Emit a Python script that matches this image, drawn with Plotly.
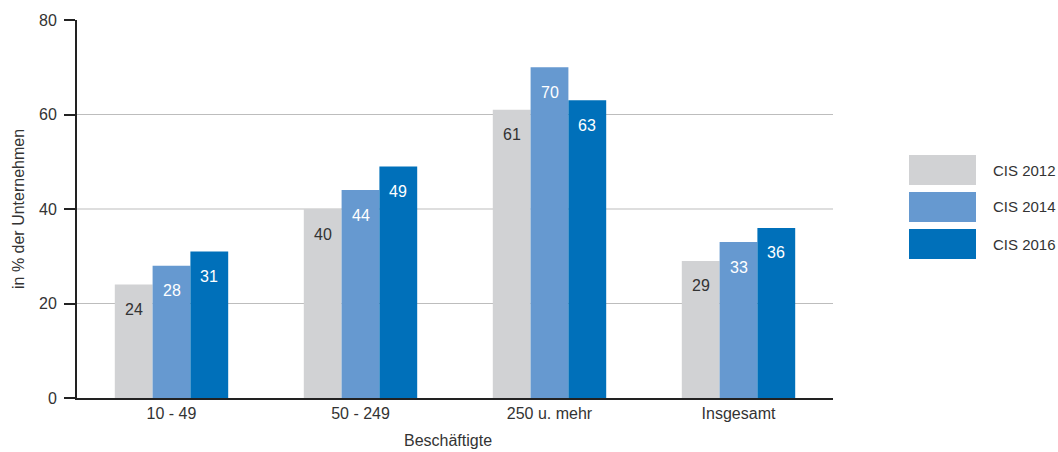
import plotly.graph_objects as go

categories = ["10 - 49", "50 - 249", "250 u. mehr", "Insgesamt"]
series_names = ["CIS 2012", "CIS 2014", "CIS 2016"]
cis_2012 = [24, 40, 61, 29]
cis_2014 = [28, 44, 70, 33]
cis_2016 = [31, 49, 63, 36]
y_ticks = [0, 20, 40, 60, 80]

colors = ["#d1d2d4", "#6699d0", "#0070ba"]
label_colors = ["#333333", "#ffffff", "#ffffff"]
FONT = "Liberation Sans, Arial, sans-serif"
TEXT = "#333333"
FS = 16

# plot area in pixels
W, H = 1058, 452
L, R, T, B = 77, 225, 20, 54
PW, PH = W - L - R, H - T - B

fig = go.Figure()
values = [cis_2012, cis_2014, cis_2016]
for name, vals, col in zip(series_names, values, colors):
    fig.add_trace(go.Bar(x=categories, y=vals, name=name, marker_color=col,
                         marker_line_width=0, showlegend=False))

# value labels just below the top of each bar
n = len(series_names)
bargap = 0.4
bw = (1 - bargap) / n
annotations = []
for s, vals in enumerate(values):
    for i, v in enumerate(vals):
        annotations.append(dict(x=i + (s - (n - 1) / 2) * bw, y=v, xref="x", yref="y",
                                text=str(v), showarrow=False, yshift=-25,
                                font=dict(family=FONT, size=FS, color=label_colors[s])))

# horizontal grid at the inner ticks
shapes = []
for t in y_ticks[1:-1]:
    shapes.append(dict(type="line", xref="paper", yref="y", x0=0, x1=1, y0=t, y1=t,
                       line=dict(color="#bdbdbd", width=1), layer="below"))

# legend drawn as wide swatches
def px_x(px):
    return (px - L) / PW

def px_y(py):
    return (H - B - py) / PH

legend_tops = [155, 192, 229]
for name, col, top in zip(series_names, colors, legend_tops):
    shapes.append(dict(type="rect", xref="paper", yref="paper",
                       x0=px_x(909), x1=px_x(976), y0=px_y(top + 30), y1=px_y(top),
                       fillcolor=col, line_width=0))
    annotations.append(dict(x=px_x(991), y=px_y(top + 15), xref="paper", yref="paper",
                            text=name, showarrow=False, xanchor="left", yanchor="middle",
                            font=dict(family=FONT, size=15, color=TEXT)))

# axis titles
annotations.append(dict(x=px_x(18), y=0.5, xref="paper", yref="paper",
                        text="in % der Unternehmen", textangle=-90, showarrow=False,
                        xanchor="center", yanchor="middle",
                        font=dict(family=FONT, size=FS, color=TEXT)))
annotations.append(dict(x=px_x(448), y=px_y(440), xref="paper", yref="paper",
                        text="Beschäftigte", showarrow=False,
                        xanchor="center", yanchor="middle",
                        font=dict(family=FONT, size=FS, color=TEXT)))

fig.update_layout(
    width=W, height=H,
    margin=dict(l=L, r=R, t=T, b=B, pad=0),
    barmode="group", bargap=bargap, bargroupgap=0,
    plot_bgcolor="white", paper_bgcolor="white",
    font=dict(family=FONT, size=FS, color=TEXT),
    shapes=shapes, annotations=annotations,
    xaxis=dict(showgrid=False, showline=True, linecolor="#222222", linewidth=2,
               ticks="", tickfont=dict(size=FS, color=TEXT)),
    yaxis=dict(range=[0, 80], tickvals=y_ticks, showgrid=False, zeroline=False,
               showline=True, linecolor="#222222", linewidth=2,
               ticks="outside", ticklen=11, tickwidth=1.5, tickcolor="#222222",
               tickfont=dict(size=FS, color=TEXT), ticklabelstandoff=4),
)

fig.write_html("out.html")
